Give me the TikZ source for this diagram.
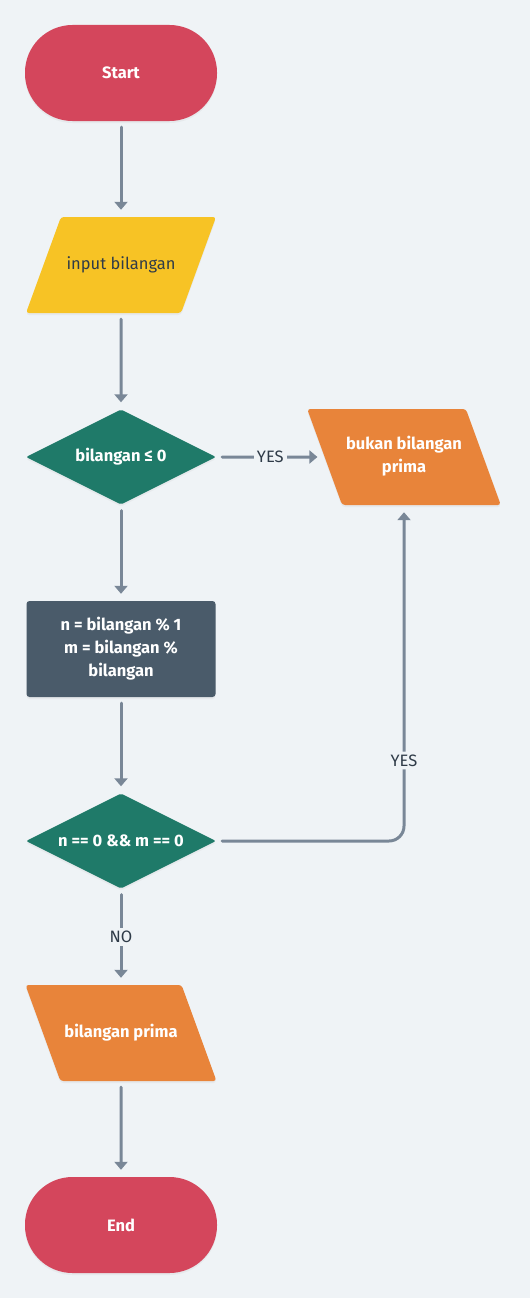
\documentclass[tikz,border=0pt]{standalone}
\usepackage{fontspec}
\setmainfont{Fira Sans}
\usetikzlibrary{shapes.geometric,arrows.meta,shadows}
\definecolor{bg}{HTML}{EFF3F6}
\definecolor{termred}{HTML}{D4465C}
\definecolor{inyellow}{HTML}{F7C325}
\definecolor{decgreen}{HTML}{1F7A69}
\definecolor{outorange}{HTML}{E8843A}
\definecolor{procgray}{HTML}{4A5B6A}
\definecolor{linegray}{HTML}{798797}
\definecolor{txtdark}{HTML}{2F3B48}
\begin{document}
\begin{tikzpicture}[x=1pt, y=-1pt,
  shd/.style={drop shadow={shadow xshift=0pt, shadow yshift=-2pt, opacity=.08}},
  term/.style={rectangle, rounded corners=47.5pt, minimum width=192pt, minimum height=96pt, fill=termred, text=white, font=\fontsize{16.5}{20}\selectfont\bfseries, shd},
  io/.style={trapezium, trapezium stretches body=true, rounded corners=3pt, minimum width=190pt, minimum height=0pt, text height=12pt, text depth=4pt, inner xsep=4pt, inner ysep=40pt, shd},
  dec/.style={diamond, inner sep=0pt, rounded corners=2pt, minimum width=190pt, minimum height=95pt, fill=decgreen, text=white, font=\fontsize{16.5}{20}\selectfont\bfseries, shd},
  proc/.style={rectangle, rounded corners=3pt, minimum width=189pt, minimum height=96pt, fill=procgray, text=white, align=center, font=\fontsize{16.5}{23}\selectfont\bfseries, shd},
  arr/.style={draw=linegray, line width=3pt, line cap=round, -{Triangle[width=13pt,length=8pt]}, shorten <=6pt, shorten >=7pt},
  lbl/.style={fill=bg, text=txtdark, inner sep=3pt, font=\fontsize{16.5}{20}\selectfont}]
\useasboundingbox[fill=bg] (0,0) rectangle (530,1298);
\node[term] (fc0) at (121,73){Start};
\node[io, trapezium left angle=70, trapezium right angle=110, fill=inyellow, text=txtdark, font=\fontsize{16.5}{20}\selectfont] (fc1) at (121,265){input bilangan};
\node[dec] (fc2) at (121,457){\makebox[0pt]{bilangan ≤ 0}};
\node[io, trapezium left angle=110, trapezium right angle=70, text height=35pt, text depth=4pt, inner ysep=28.5pt, fill=outorange, text=white, align=center, font=\fontsize{16.5}{23}\selectfont\bfseries] (fc3) at (404,457){bukan bilangan\\prima};
\node[proc] (fc4) at (121,649){n = bilangan \% 1\\m = bilangan \%\\bilangan};
\node[dec] (fc5) at (121,841){\makebox[0pt]{n == 0 \&\& m == 0}};
\node[io, trapezium left angle=110, trapezium right angle=70, fill=outorange, text=white, font=\fontsize{16.5}{20}\selectfont\bfseries] (fc6) at (121,1033){bilangan prima};
\node[term] (fc7) at (121,1225){End};
\draw[arr](fc0) -- (fc1);
\draw[arr](fc1) -- (fc2);
\draw[arr](fc2) -- node[lbl]{YES} (fc3);
\draw[arr](fc2) -- (fc4);
\draw[arr](fc4) -- (fc5);
\draw[arr, rounded corners=15pt](fc5.east) -- (fc5.east -| fc3.south) -- node[lbl, pos=.24]{YES} (fc3.south);
\draw[arr](fc5) -- node[lbl]{NO} (fc6);
\draw[arr](fc6) -- (fc7);
\end{tikzpicture}
\end{document}
